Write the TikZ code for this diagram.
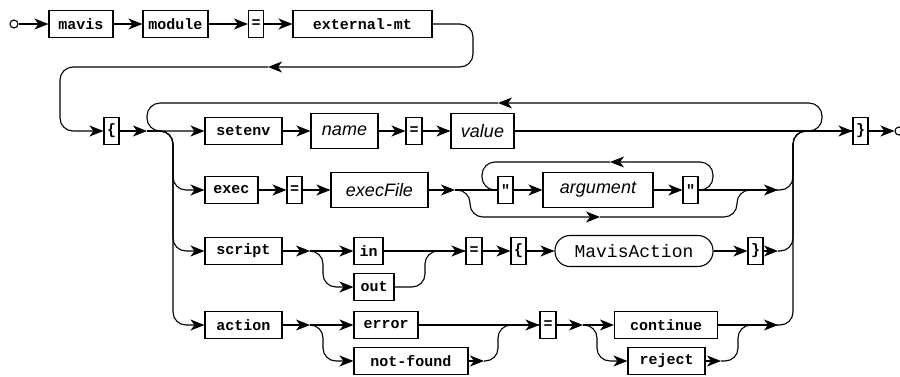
\documentclass[tikz,border=0pt]{standalone}
\usepackage{fontspec}
\setmonofont{Liberation Mono}
\setsansfont{Liberation Sans}
\usetikzlibrary{arrows.meta}

\begin{document}
\begin{tikzpicture}[
		x=1pt, y=-1pt,
		line width=1.1pt,
		>={Stealth[length=14pt,width=11pt,inset=4pt]},
		kw/.style={draw, inner sep=0pt, minimum height=27pt, font=\ttfamily\bfseries\fontsize{15}{15}\selectfont},
		nt/.style={draw, inner sep=0pt, minimum height=35pt, font=\sffamily\itshape\fontsize{18}{18}\selectfont},
		refbox/.style={draw, inner sep=0pt, rounded corners=15pt, minimum height=31pt, font=\ttfamily\fontsize{18}{18}\selectfont},
		term/.style={draw, circle, inner sep=0pt, minimum size=8pt},
		rr/.style={rounded corners=13pt},
	]
		\useasboundingbox (0,0) rectangle (900,376);

		\node[term] (st) at (14,24) {};
		\node[kw, minimum width=64pt] (mavis) at (81,24) {mavis};
		\node[kw, minimum width=65pt] (module) at (175.5,24) {module};
		\node[kw, minimum width=15pt] (eqa) at (256,24) {=};
		\node[kw, minimum width=139pt] (ext) at (362.5,24) {external-mt};

		\node[kw, minimum width=15pt] (lbr) at (111.5,131) {\{};
		\node[kw, minimum width=77pt] (setenv) at (243.5,131) {setenv};
		\node[nt, minimum width=67pt] (name) at (344.5,131) {name};
		\node[kw, minimum width=16pt] (eqb) at (414,131) {=};
		\node[nt, minimum width=63pt] (value) at (482.5,131) {value};
		\node[kw, minimum width=15pt] (rbr) at (860.5,131) {\}};
		\node[term] (en) at (899,131) {};

		\node[kw, minimum width=53pt] (exec) at (231.5,190) {exec};
		\node[kw, minimum width=15pt] (eqc) at (294.5,190) {=};
		\node[nt, minimum width=97pt] (execFile) at (379.5,190) {execFile};
		\node[kw, minimum width=15pt] (q1) at (505.5,190) {"};
		\node[nt, minimum width=110pt] (arg) at (598,190) {argument};
		\node[kw, minimum width=15pt] (q2) at (690.5,190) {"};

		\node[kw, minimum width=77pt] (script) at (243.5,251) {script};
		\node[kw, minimum width=29pt] (in) at (368.5,251) {in};
		\node[kw, minimum width=40pt] (out) at (374,287) {out};
		\node[kw, minimum width=16pt] (eqd) at (474,251) {=};
		\node[kw, minimum width=15pt] (lbrb) at (518.5,251) {\{};
		\node[refbox, minimum width=158pt] (mact) at (634,251) {MavisAction};
		\node[kw, minimum width=15pt] (rbrb) at (755.5,251) {\}};

		\node[kw, minimum width=77pt] (action) at (243.5,325) {action};
		\node[kw, minimum width=64pt] (error) at (386,325) {error};
		\node[kw, minimum width=114pt] (notf) at (411,361) {not-found};
		\node[kw, minimum width=16pt] (eqe) at (548,325) {=};
		\node[kw, minimum width=103pt] (cont) at (666,325) {continue};
		\node[kw, minimum width=77pt] (rej) at (666.5,361) {reject};

		\coordinate (rt) at (473,67);
		\coordinate (back) at (268,67);
		\coordinate (lf) at (60,131);
		\coordinate (jin) at (147,131);
		\coordinate (bl) at (173,131);
		\coordinate (lpR) at (822,103);
		\coordinate (larr) at (498,103);
		\coordinate (br) at (793,131);
		\coordinate (j3) at (455,190);
		\coordinate (oR) at (713,162);
		\coordinate (oarr) at (610,162);
		\coordinate (oL) at (482,190);
		\coordinate (bL) at (470,217);
		\coordinate (barr) at (600,217);
		\coordinate (bR) at (737,190);
		\coordinate (m3) at (778,190);
		\coordinate (j4) at (310,251);
		\coordinate (sL4) at (323,287);
		\coordinate (c4) at (425,251);
		\coordinate (m4) at (778,251);
		\coordinate (j5) at (310,325);
		\coordinate (sL5) at (323,361);
		\coordinate (n5) at (484,361);
		\coordinate (c5) at (498,325);
		\coordinate (k5) at (583,325);
		\coordinate (sR5) at (597,361);
		\coordinate (r5) at (721,361);
		\coordinate (c5b) at (738,325);
		\coordinate (m5) at (778,325);

		\path[->]
			(st) edge (mavis)
			(mavis) edge (module)
			(module) edge (eqa)
			(eqa) edge (ext)
			(lbr) edge (jin)
			(setenv) edge (name)
			(name) edge (eqb)
			(eqb) edge (value)
			(value) edge (rbr)
			(rbr) edge (en)
		;
		\draw[->,rr] (ext) -| (rt) -- (back);
		\draw[->,rr] (back) -| (lf) -- (lbr);
		\draw[->,rr] (value) -| (lpR) -- (larr);
		\draw[->,rr] (larr) -| (jin) -- (setenv);
		\draw[->,rr] (jin) -- (bl) |- (exec);
		\draw[->,rr] (jin) -- (bl) |- (script);
		\draw[->,rr] (jin) -- (bl) |- (action);

		\path[->]
			(exec) edge (eqc)
			(eqc) edge (execFile)
			(execFile) edge (j3)
			(q1) edge (arg)
			(arg) edge (q2)
			(q2) edge (m3)
		;
		\draw (j3) -- (q1);
		\draw[->,rr] (q2) -| (oR) -- (oarr);
		\draw[rr] (oarr) -| (oL) -- (q1);
		\draw[->,rr] (j3) -| (bL) -- (barr);
		\draw[rr] (barr) -| (bR) -- (m3);
		\draw[rr] (m3) -| (br) -- (rbr);

		\path[->]
			(script) edge (j4)
			(j4) edge (in)
			(in) edge (eqd)
			(eqd) edge (lbrb)
			(lbrb) edge (mact)
			(mact) edge (rbrb)
			(rbrb) edge (m4)
		;
		\draw[->,rr] (j4) -| (sL4) -- (out);
		\draw[rr] (out) -| (c4) -- (eqd);
		\draw[rr] (m4) -| (br) -- (rbr);

		\path[->]
			(action) edge (j5)
			(j5) edge (error)
			(error) edge (eqe)
			(notf) edge (n5)
			(eqe) edge (k5)
			(k5) edge (cont)
			(rej) edge (r5)
			(cont) edge (m5)
		;
		\draw[->,rr] (j5) -| (sL5) -- (notf);
		\draw[rr] (n5) -| (c5) -- (eqe);
		\draw[->,rr] (k5) -| (sR5) -- (rej);
		\draw[rr] (r5) -| (c5b) -- (m5);
		\draw[rr] (m5) -| (br) -- (rbr);
	\end{tikzpicture}
\end{document}
